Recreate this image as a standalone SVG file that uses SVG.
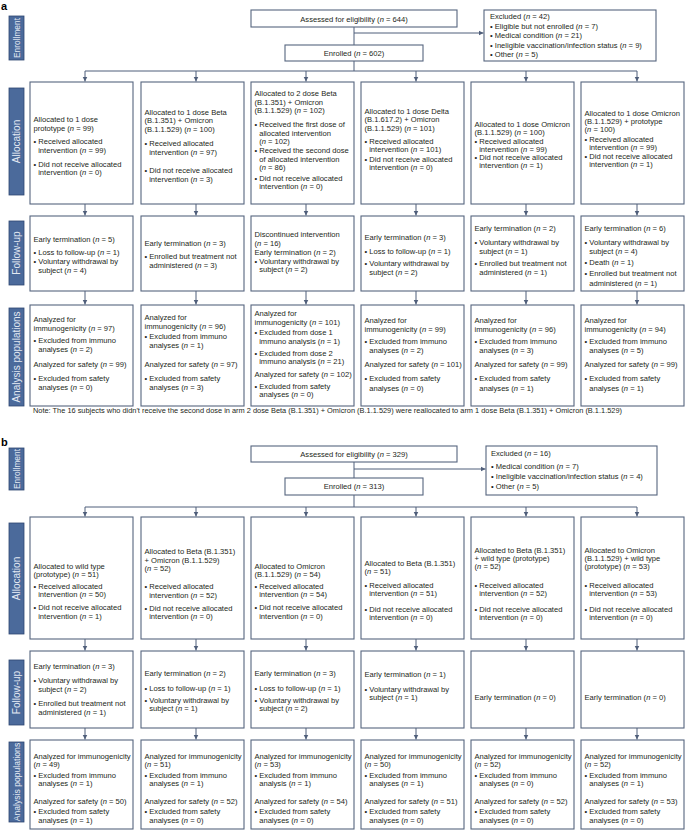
<svg xmlns="http://www.w3.org/2000/svg" width="685" height="840" viewBox="0 0 685 840">
<defs>
<marker id="ah" markerWidth="6" markerHeight="6" refX="5" refY="3" orient="auto" markerUnits="userSpaceOnUse"><path d="M0,0.5 L5,3 L0,5.5 z" fill="#4f5e7a"/></marker>
<style>
.box{fill:#fff;stroke:#56657f;stroke-width:1.1}
.side{fill:#4b6a9b;stroke:#2d4671;stroke-width:0.8}
.st{fill:#e3e9f3;font-family:"Liberation Sans",Arial,sans-serif;font-size:10px;text-anchor:middle}
.se{font-size:8.4px}
.sb{font-size:8.6px}
.t{fill:#231f20;font-family:"Liberation Sans",Arial,sans-serif;font-size:7.6px}
.ctr{text-anchor:middle}
.i{font-style:italic}
.ln{stroke:#4f5e7a;stroke-width:1;fill:none}
.arr{stroke:#4f5e7a;stroke-width:1;fill:none;marker-end:url(#ah)}
.lab{fill:#000;font-family:"Liberation Sans",Arial,sans-serif;font-size:11px;font-weight:bold}
</style>
</defs>
<rect width="685" height="840" fill="#fff"/>

<text class="lab" x="1" y="10">a</text>
<text class="lab" x="1" y="446">b</text>

<!-- Panel a sidebars -->
<g id="a-side-enrollment"><rect class="side" x="9" y="16" width="15" height="44"/><text class="st se" transform="translate(19.5,38) rotate(-90)">Enrollment</text></g>
<g id="a-side-allocation"><rect class="side" x="9" y="88" width="15" height="107"/><text class="st" transform="translate(20,141.5) rotate(-90)">Allocation</text></g>
<g id="a-side-followup"><rect class="side" x="9" y="221" width="15" height="64"/><text class="st" transform="translate(20,253) rotate(-90)">Follow-up</text></g>
<g id="a-side-analysis"><rect class="side" x="9" y="308" width="15" height="98"/><text class="st" transform="translate(20,357) rotate(-90)">Analysis populations</text></g>

<!-- Panel a connectors -->
<g id="a-connectors">
<path class="ln" d="M354,27 V45"/>
<path class="arr" d="M354,33 H483.5"/>
<path class="ln" d="M354,61 V71 M85,71 H637"/>
<path class="arr" d="M85,71 V81.5"/><path class="arr" d="M196,71 V81.5"/><path class="arr" d="M306,71 V81.5"/><path class="arr" d="M416,71 V81.5"/><path class="arr" d="M526,71 V81.5"/><path class="arr" d="M637,71 V81.5"/>
<path class="arr" d="M85,204 V215.5"/><path class="arr" d="M196,204 V215.5"/><path class="arr" d="M306,204 V215.5"/><path class="arr" d="M416,204 V215.5"/><path class="arr" d="M526,204 V215.5"/><path class="arr" d="M637,204 V215.5"/>
<path class="arr" d="M85,291 V304.5"/><path class="arr" d="M196,291 V304.5"/><path class="arr" d="M306,291 V304.5"/><path class="arr" d="M416,291 V304.5"/><path class="arr" d="M526,291 V304.5"/><path class="arr" d="M637,291 V304.5"/>
</g>

<!-- Panel a enrollment -->
<g id="a-assessed"><rect class="box" x="251" y="10" width="206" height="17"/><text class="t ctr" x="354" y="21.5">Assessed for eligibility (<tspan class="i">n</tspan> = 644)</text></g>
<g id="a-enrolled"><rect class="box" x="285" y="45" width="138" height="16"/><text class="t ctr" x="354" y="55.5">Enrolled (<tspan class="i">n</tspan> = 602)</text></g>
<g id="a-excluded"><rect class="box" x="484" y="10" width="172" height="51"/>
<text class="t"><tspan x="490" y="18.7">Excluded (<tspan class="i">n</tspan> = 42)</tspan><tspan x="490" y="29.4">• Eligible but not enrolled (<tspan class="i">n</tspan> = 7)</tspan><tspan x="490" y="38.4">• Medical condition (<tspan class="i">n</tspan> = 21)</tspan><tspan x="490" y="48.4">• Ineligible vaccination/infection status (<tspan class="i">n</tspan> = 9)</tspan><tspan x="490" y="57">• Other (<tspan class="i">n</tspan> = 5)</tspan></text></g>

<!-- Panel a allocation -->
<g id="a-alloc-1"><rect class="box" x="30" y="82" width="103" height="122"/>
<text class="t"><tspan x="33.5" y="122">Allocated to 1 dose</tspan><tspan x="33.5" y="130.5">prototype (<tspan class="i">n</tspan> = 99)</tspan><tspan x="33.5" y="144">• Received allocated</tspan><tspan x="38.2" y="152.5">intervention (<tspan class="i">n</tspan> = 99)</tspan><tspan x="33.5" y="166.5">• Did not receive allocated</tspan><tspan x="38.2" y="175">intervention (<tspan class="i">n</tspan> = 0)</tspan></text></g>
<g id="a-alloc-2"><rect class="box" x="141" y="82" width="103" height="122"/>
<text class="t"><tspan x="144.5" y="115">Allocated to 1 dose Beta</tspan><tspan x="144.5" y="123.3">(B.1.351) + Omicron</tspan><tspan x="144.5" y="131.6">(B.1.1.529) (<tspan class="i">n</tspan> = 100)</tspan><tspan x="144.5" y="146">• Received allocated</tspan><tspan x="149.2" y="154.5">intervention (<tspan class="i">n</tspan> = 97)</tspan><tspan x="144.5" y="173">• Did not receive allocated</tspan><tspan x="149.2" y="181.5">intervention (<tspan class="i">n</tspan> = 3)</tspan></text></g>
<g id="a-alloc-3"><rect class="box" x="251" y="82" width="103" height="122"/>
<text class="t"><tspan x="254.5" y="96.4">Allocated to 2 dose Beta</tspan><tspan x="254.5" y="105">(B.1.351) + Omicron</tspan><tspan x="254.5" y="113.4">(B.1.1.529) (<tspan class="i">n</tspan> = 102)</tspan><tspan x="254.5" y="127.4">• Received the first dose of</tspan><tspan x="259.2" y="135.7">allocated intervention</tspan><tspan x="259.2" y="144">(<tspan class="i">n</tspan> = 102)</tspan><tspan x="254.5" y="153.4">• Received the second dose</tspan><tspan x="259.2" y="161.7">of allocated intervention</tspan><tspan x="259.2" y="170">(<tspan class="i">n</tspan> = 86)</tspan><tspan x="254.5" y="180.7">• Did not receive allocated</tspan><tspan x="259.2" y="189">intervention (<tspan class="i">n</tspan> = 0)</tspan></text></g>
<g id="a-alloc-4"><rect class="box" x="361" y="82" width="103" height="122"/>
<text class="t"><tspan x="364.5" y="114">Allocated to 1 dose Delta</tspan><tspan x="364.5" y="122.4">(B.1.617.2) + Omicron</tspan><tspan x="364.5" y="130.7">(B.1.1.529) (<tspan class="i">n</tspan> = 101)</tspan><tspan x="364.5" y="144">• Received allocated</tspan><tspan x="369.2" y="152.4">intervention (<tspan class="i">n</tspan> = 101)</tspan><tspan x="364.5" y="161.5">• Did not receive allocated</tspan><tspan x="369.2" y="170">intervention (<tspan class="i">n</tspan> = 0)</tspan></text></g>
<g id="a-alloc-5"><rect class="box" x="471" y="82" width="103" height="122"/>
<text class="t"><tspan x="474.5" y="126.7">Allocated to 1 dose Omicron</tspan><tspan x="474.5" y="135">(B.1.1.529) (<tspan class="i">n</tspan> = 100)</tspan><tspan x="474.5" y="143.5">• Received allocated</tspan><tspan x="479.2" y="151.7">intervention (<tspan class="i">n</tspan> = 99)</tspan><tspan x="474.5" y="160">• Did not receive allocated</tspan><tspan x="479.2" y="168.3">intervention (<tspan class="i">n</tspan> = 1)</tspan></text></g>
<g id="a-alloc-6"><rect class="box" x="581" y="82" width="103" height="122"/>
<text class="t"><tspan x="584.5" y="115.7">Allocated to 1 dose Omicron</tspan><tspan x="584.5" y="124">(B.1.1.529) + prototype</tspan><tspan x="584.5" y="132">(<tspan class="i">n</tspan> = 100)</tspan><tspan x="584.5" y="142">• Received allocated</tspan><tspan x="589.2" y="150.3">intervention (<tspan class="i">n</tspan> = 99)</tspan><tspan x="584.5" y="158.7">• Did not receive allocated</tspan><tspan x="589.2" y="167">intervention (<tspan class="i">n</tspan> = 1)</tspan></text></g>

<!-- Panel a follow-up -->
<g id="a-fu-1"><rect class="box" x="30" y="216" width="103" height="75"/>
<text class="t"><tspan x="33.5" y="241.7">Early termination (<tspan class="i">n</tspan> = 5)</tspan><tspan x="33.5" y="255">• Loss to follow-up (<tspan class="i">n</tspan> = 1)</tspan><tspan x="33.5" y="264">• Voluntary withdrawal by</tspan><tspan x="38.2" y="273">subject (<tspan class="i">n</tspan> = 4)</tspan></text></g>
<g id="a-fu-2"><rect class="box" x="141" y="216" width="103" height="75"/>
<text class="t"><tspan x="144.5" y="245.7">Early termination (<tspan class="i">n</tspan> = 3)</tspan><tspan x="144.5" y="259">• Enrolled but treatment not</tspan><tspan x="149.2" y="268">administered (<tspan class="i">n</tspan> = 3)</tspan></text></g>
<g id="a-fu-3"><rect class="box" x="251" y="216" width="103" height="75"/>
<text class="t"><tspan x="254.5" y="237.4">Discontinued intervention</tspan><tspan x="254.5" y="245.7">(<tspan class="i">n</tspan> = 16)</tspan><tspan x="254.5" y="254.7">Early termination (<tspan class="i">n</tspan> = 2)</tspan><tspan x="254.5" y="264">• Voluntary withdrawal by</tspan><tspan x="259.2" y="272.4">subject (<tspan class="i">n</tspan> = 2)</tspan></text></g>
<g id="a-fu-4"><rect class="box" x="361" y="216" width="103" height="75"/>
<text class="t"><tspan x="364.5" y="240">Early termination (<tspan class="i">n</tspan> = 3)</tspan><tspan x="364.5" y="254">• Loss to follow-up (<tspan class="i">n</tspan> = 1)</tspan><tspan x="364.5" y="265.7">• Voluntary withdrawal by</tspan><tspan x="369.2" y="274.7">subject (<tspan class="i">n</tspan> = 2)</tspan></text></g>
<g id="a-fu-5"><rect class="box" x="471" y="216" width="103" height="75"/>
<text class="t"><tspan x="474.5" y="231">Early termination (<tspan class="i">n</tspan> = 2)</tspan><tspan x="474.5" y="244.7">• Voluntary withdrawal by</tspan><tspan x="479.2" y="254">subject (<tspan class="i">n</tspan> = 1)</tspan><tspan x="474.5" y="265.7">• Enrolled but treatment not</tspan><tspan x="479.2" y="274.7">administered (<tspan class="i">n</tspan> = 1)</tspan></text></g>
<g id="a-fu-6"><rect class="box" x="581" y="216" width="103" height="75"/>
<text class="t"><tspan x="584.5" y="231">Early termination (<tspan class="i">n</tspan> = 6)</tspan><tspan x="584.5" y="244.7">• Voluntary withdrawal by</tspan><tspan x="589.2" y="254">subject (<tspan class="i">n</tspan> = 4)</tspan><tspan x="584.5" y="264.7">• Death (<tspan class="i">n</tspan> = 1)</tspan><tspan x="584.5" y="276.4">• Enrolled but treatment not</tspan><tspan x="589.2" y="285.7">administered (<tspan class="i">n</tspan> = 1)</tspan></text></g>

<!-- Panel a analysis -->
<g id="a-an-1"><rect class="box" x="30" y="305" width="103" height="101"/>
<text class="t"><tspan x="33.5" y="322.4">Analyzed for</tspan><tspan x="33.5" y="330.7">immunogenicity (<tspan class="i">n</tspan> = 97)</tspan><tspan x="33.5" y="343.4">• Excluded from immuno</tspan><tspan x="38.2" y="352.4">analyses (<tspan class="i">n</tspan> = 2)</tspan><tspan x="33.5" y="367.4">Analyzed for safety (<tspan class="i">n</tspan> = 99)</tspan><tspan x="33.5" y="380.7">• Excluded from safety</tspan><tspan x="38.2" y="389.7">analyses (<tspan class="i">n</tspan> = 0)</tspan></text></g>
<g id="a-an-2"><rect class="box" x="141" y="305" width="103" height="101"/>
<text class="t"><tspan x="144.5" y="320">Analyzed for</tspan><tspan x="144.5" y="329">immunogenicity (<tspan class="i">n</tspan> = 96)</tspan><tspan x="144.5" y="339">• Excluded from immuno</tspan><tspan x="149.2" y="348">analyses (<tspan class="i">n</tspan> = 1)</tspan><tspan x="144.5" y="367.4">Analyzed for safety (<tspan class="i">n</tspan> = 97)</tspan><tspan x="144.5" y="380.7">• Excluded from safety</tspan><tspan x="149.2" y="389.7">analyses (<tspan class="i">n</tspan> = 3)</tspan></text></g>
<g id="a-an-3"><rect class="box" x="251" y="305" width="103" height="101"/>
<text class="t"><tspan x="254.5" y="315.7">Analyzed for</tspan><tspan x="254.5" y="325">immunogenicity (<tspan class="i">n</tspan> = 101)</tspan><tspan x="254.5" y="334.7">• Excluded from dose 1</tspan><tspan x="259.2" y="344">immuno analysis (<tspan class="i">n</tspan> = 1)</tspan><tspan x="254.5" y="355.7">• Excluded from dose 2</tspan><tspan x="259.2" y="364">immuno analysis (<tspan class="i">n</tspan> = 21)</tspan><tspan x="254.5" y="377.4">Analyzed for safety (<tspan class="i">n</tspan> = 102)</tspan><tspan x="254.5" y="389">• Excluded from safety</tspan><tspan x="259.2" y="397.4">analyses (<tspan class="i">n</tspan> = 0)</tspan></text></g>
<g id="a-an-4"><rect class="box" x="361" y="305" width="103" height="101"/>
<text class="t"><tspan x="364.5" y="323.4">Analyzed for</tspan><tspan x="364.5" y="332.4">immunogenicity (<tspan class="i">n</tspan> = 99)</tspan><tspan x="364.5" y="344">• Excluded from immuno</tspan><tspan x="369.2" y="353">analyses (<tspan class="i">n</tspan> = 2)</tspan><tspan x="364.5" y="367.4">Analyzed for safety (<tspan class="i">n</tspan> = 101)</tspan><tspan x="364.5" y="381.4">• Excluded from safety</tspan><tspan x="369.2" y="390.7">analyses (<tspan class="i">n</tspan> = 0)</tspan></text></g>
<g id="a-an-5"><rect class="box" x="471" y="305" width="103" height="101"/>
<text class="t"><tspan x="474.5" y="323.4">Analyzed for</tspan><tspan x="474.5" y="332.4">immunogenicity (<tspan class="i">n</tspan> = 96)</tspan><tspan x="474.5" y="344">• Excluded from immuno</tspan><tspan x="479.2" y="353">analyses (<tspan class="i">n</tspan> = 3)</tspan><tspan x="474.5" y="367.4">Analyzed for safety (<tspan class="i">n</tspan> = 99)</tspan><tspan x="474.5" y="381.4">• Excluded from safety</tspan><tspan x="479.2" y="390.7">analyses (<tspan class="i">n</tspan> = 1)</tspan></text></g>
<g id="a-an-6"><rect class="box" x="581" y="305" width="103" height="101"/>
<text class="t"><tspan x="584.5" y="323.4">Analyzed for</tspan><tspan x="584.5" y="332.4">immunogenicity (<tspan class="i">n</tspan> = 94)</tspan><tspan x="584.5" y="344">• Excluded from immuno</tspan><tspan x="589.2" y="353">analyses (<tspan class="i">n</tspan> = 5)</tspan><tspan x="584.5" y="367.4">Analyzed for safety (<tspan class="i">n</tspan> = 99)</tspan><tspan x="584.5" y="381.4">• Excluded from safety</tspan><tspan x="589.2" y="390.7">analyses (<tspan class="i">n</tspan> = 1)</tspan></text></g>

<text id="a-note" class="t" x="33" y="413" textLength="589" lengthAdjust="spacingAndGlyphs">Note: The 16 subjects who didn't receive the second dose in arm 2 dose Beta (B.1.351) + Omicron (B.1.1.529) were reallocated to arm 1 dose Beta (B.1.351) + Omicron (B.1.1.529)</text>

<!-- Panel b sidebars -->
<g id="b-side-enrollment"><rect class="side" x="9" y="448" width="15" height="42"/><text class="st se" transform="translate(19.5,469) rotate(-90)">Enrollment</text></g>
<g id="b-side-allocation"><rect class="side" x="9" y="523" width="15" height="111"/><text class="st" transform="translate(20,578.5) rotate(-90)">Allocation</text></g>
<g id="b-side-followup"><rect class="side" x="9" y="660" width="15" height="65"/><text class="st" transform="translate(20,692.5) rotate(-90)">Follow-up</text></g>
<g id="b-side-analysis"><rect class="side" x="9" y="742" width="15" height="80"/><text class="st sb" transform="translate(19.5,782) rotate(-90)">Analysis populations</text></g>

<!-- Panel b connectors -->
<g id="b-connectors">
<path class="ln" d="M354,462 V478"/>
<path class="arr" d="M354,469 H485.5"/>
<path class="ln" d="M354,495 V507 M85,507 H637"/>
<path class="arr" d="M85,507 V516.5"/><path class="arr" d="M196,507 V516.5"/><path class="arr" d="M306,507 V516.5"/><path class="arr" d="M416,507 V516.5"/><path class="arr" d="M526,507 V516.5"/><path class="arr" d="M637,507 V516.5"/>
<path class="arr" d="M85,639 V650.5"/><path class="arr" d="M196,639 V650.5"/><path class="arr" d="M306,639 V650.5"/><path class="arr" d="M416,639 V650.5"/><path class="arr" d="M526,639 V650.5"/><path class="arr" d="M637,639 V650.5"/>
<path class="arr" d="M85,728 V739.5"/><path class="arr" d="M196,728 V739.5"/><path class="arr" d="M306,728 V739.5"/><path class="arr" d="M416,728 V739.5"/><path class="arr" d="M526,728 V739.5"/><path class="arr" d="M637,728 V739.5"/>
</g>

<!-- Panel b enrollment -->
<g id="b-assessed"><rect class="box" x="251" y="446" width="206" height="16"/><text class="t ctr" x="354" y="456.7">Assessed for eligibility (<tspan class="i">n</tspan> = 329)</text></g>
<g id="b-enrolled"><rect class="box" x="285" y="478" width="138" height="17"/><text class="t ctr" x="354" y="489.4">Enrolled (<tspan class="i">n</tspan> = 313)</text></g>
<g id="b-excluded"><rect class="box" x="486" y="446" width="171" height="49"/>
<text class="t"><tspan x="491" y="455.7">Excluded (<tspan class="i">n</tspan> = 16)</tspan><tspan x="491" y="469.4">• Medical condition (<tspan class="i">n</tspan> = 7)</tspan><tspan x="491" y="479.4">• Ineligible vaccination/infection status (<tspan class="i">n</tspan> = 4)</tspan><tspan x="491" y="489.4">• Other (<tspan class="i">n</tspan> = 5)</tspan></text></g>

<!-- Panel b allocation -->
<g id="b-alloc-1"><rect class="box" x="30" y="517" width="103" height="122"/>
<text class="t"><tspan x="33.5" y="568.7">Allocated to wild type</tspan><tspan x="33.5" y="577">(prototype) (<tspan class="i">n</tspan> = 51)</tspan><tspan x="33.5" y="588.7">• Received allocated</tspan><tspan x="38.2" y="597">intervention (<tspan class="i">n</tspan> = 50)</tspan><tspan x="33.5" y="610.4">• Did not receive allocated</tspan><tspan x="38.2" y="618.7">intervention (<tspan class="i">n</tspan> = 1)</tspan></text></g>
<g id="b-alloc-2"><rect class="box" x="141" y="517" width="103" height="122"/>
<text class="t"><tspan x="144.5" y="554.4">Allocated to Beta (B.1.351)</tspan><tspan x="144.5" y="562.7">+ Omicron (B.1.1.529)</tspan><tspan x="144.5" y="571">(<tspan class="i">n</tspan> = 52)</tspan><tspan x="144.5" y="589.4">• Received allocated</tspan><tspan x="149.2" y="597.7">intervention (<tspan class="i">n</tspan> = 52)</tspan><tspan x="144.5" y="611">• Did not receive allocated</tspan><tspan x="149.2" y="619.4">intervention (<tspan class="i">n</tspan> = 0)</tspan></text></g>
<g id="b-alloc-3"><rect class="box" x="251" y="517" width="103" height="122"/>
<text class="t"><tspan x="254.5" y="568.7">Allocated to Omicron</tspan><tspan x="254.5" y="577">(B.1.1.529) (<tspan class="i">n</tspan> = 54)</tspan><tspan x="254.5" y="588.7">• Received allocated</tspan><tspan x="259.2" y="597">intervention (<tspan class="i">n</tspan> = 54)</tspan><tspan x="254.5" y="610.4">• Did not receive allocated</tspan><tspan x="259.2" y="618.7">intervention (<tspan class="i">n</tspan> = 0)</tspan></text></g>
<g id="b-alloc-4"><rect class="box" x="361" y="517" width="103" height="122"/>
<text class="t"><tspan x="364.5" y="566">Allocated to Beta (B.1.351)</tspan><tspan x="364.5" y="574.4">(<tspan class="i">n</tspan> = 51)</tspan><tspan x="364.5" y="587.7">• Received allocated</tspan><tspan x="369.2" y="596">intervention (<tspan class="i">n</tspan> = 51)</tspan><tspan x="364.5" y="612">• Did not receive allocated</tspan><tspan x="369.2" y="620.4">intervention (<tspan class="i">n</tspan> = 0)</tspan></text></g>
<g id="b-alloc-5"><rect class="box" x="471" y="517" width="103" height="122"/>
<text class="t"><tspan x="474.5" y="552.7">Allocated to Beta (B.1.351)</tspan><tspan x="474.5" y="561">+ wild type (prototype)</tspan><tspan x="474.5" y="568.7">(<tspan class="i">n</tspan> = 52)</tspan><tspan x="474.5" y="587.7">• Received allocated</tspan><tspan x="479.2" y="596">intervention (<tspan class="i">n</tspan> = 52)</tspan><tspan x="474.5" y="612">• Did not receive allocated</tspan><tspan x="479.2" y="620.4">intervention (<tspan class="i">n</tspan> = 0)</tspan></text></g>
<g id="b-alloc-6"><rect class="box" x="581" y="517" width="103" height="122"/>
<text class="t"><tspan x="584.5" y="552.7">Allocated to Omicron</tspan><tspan x="584.5" y="561">(B.1.1.529) + wild type</tspan><tspan x="584.5" y="568.7">(prototype) (<tspan class="i">n</tspan> = 53)</tspan><tspan x="584.5" y="587.7">• Received allocated</tspan><tspan x="589.2" y="596">intervention (<tspan class="i">n</tspan> = 53)</tspan><tspan x="584.5" y="612">• Did not receive allocated</tspan><tspan x="589.2" y="620.4">intervention (<tspan class="i">n</tspan> = 0)</tspan></text></g>

<!-- Panel b follow-up -->
<g id="b-fu-1"><rect class="box" x="30" y="651" width="103" height="77"/>
<text class="t"><tspan x="33.5" y="669.4">Early termination (<tspan class="i">n</tspan> = 3)</tspan><tspan x="33.5" y="682.7">• Voluntary withdrawal by</tspan><tspan x="38.2" y="691.7">subject (<tspan class="i">n</tspan> = 2)</tspan><tspan x="33.5" y="706">• Enrolled but treatment not</tspan><tspan x="38.2" y="715">administered (<tspan class="i">n</tspan> = 1)</tspan></text></g>
<g id="b-fu-2"><rect class="box" x="141" y="651" width="103" height="77"/>
<text class="t"><tspan x="144.5" y="676">Early termination (<tspan class="i">n</tspan> = 2)</tspan><tspan x="144.5" y="691">• Loss to follow-up (<tspan class="i">n</tspan> = 1)</tspan><tspan x="144.5" y="702.5">• Voluntary withdrawal by</tspan><tspan x="149.2" y="711">subject (<tspan class="i">n</tspan> = 1)</tspan></text></g>
<g id="b-fu-3"><rect class="box" x="251" y="651" width="103" height="77"/>
<text class="t"><tspan x="254.5" y="676">Early termination (<tspan class="i">n</tspan> = 3)</tspan><tspan x="254.5" y="691">• Loss to follow-up (<tspan class="i">n</tspan> = 1)</tspan><tspan x="254.5" y="702.5">• Voluntary withdrawal by</tspan><tspan x="259.2" y="711">subject (<tspan class="i">n</tspan> = 2)</tspan></text></g>
<g id="b-fu-4"><rect class="box" x="361" y="651" width="103" height="77"/>
<text class="t"><tspan x="364.5" y="677">Early termination (<tspan class="i">n</tspan> = 1)</tspan><tspan x="364.5" y="691.7">• Voluntary withdrawal by</tspan><tspan x="369.2" y="700.4">subject (<tspan class="i">n</tspan> = 1)</tspan></text></g>
<g id="b-fu-5"><rect class="box" x="471" y="651" width="103" height="77"/>
<text class="t"><tspan x="474.5" y="700.4">Early termination (<tspan class="i">n</tspan> = 0)</tspan></text></g>
<g id="b-fu-6"><rect class="box" x="581" y="651" width="103" height="77"/>
<text class="t"><tspan x="584.5" y="700.4">Early termination (<tspan class="i">n</tspan> = 0)</tspan></text></g>

<!-- Panel b analysis -->
<g id="b-an-1"><rect class="box" x="30" y="740" width="103" height="89"/>
<text class="t"><tspan x="33.5" y="758.7">Analyzed for immunogenicity</tspan><tspan x="33.5" y="767">(<tspan class="i">n</tspan> = 49)</tspan><tspan x="33.5" y="777.7">• Excluded from immuno</tspan><tspan x="38.2" y="786">analyses (<tspan class="i">n</tspan> = 1)</tspan><tspan x="33.5" y="804.4">Analyzed for safety (<tspan class="i">n</tspan> = 50)</tspan><tspan x="33.5" y="814.4">• Excluded from safety</tspan><tspan x="38.2" y="823.4">analyses (<tspan class="i">n</tspan> = 1)</tspan></text></g>
<g id="b-an-2"><rect class="box" x="141" y="740" width="103" height="89"/>
<text class="t"><tspan x="144.5" y="758.7">Analyzed for immunogenicity</tspan><tspan x="144.5" y="767">(<tspan class="i">n</tspan> = 51)</tspan><tspan x="144.5" y="777.7">• Excluded from immuno</tspan><tspan x="149.2" y="786">analyses (<tspan class="i">n</tspan> = 1)</tspan><tspan x="144.5" y="804.4">Analyzed for safety (<tspan class="i">n</tspan> = 52)</tspan><tspan x="144.5" y="814.4">• Excluded from safety</tspan><tspan x="149.2" y="823.4">analyses (<tspan class="i">n</tspan> = 0)</tspan></text></g>
<g id="b-an-3"><rect class="box" x="251" y="740" width="103" height="89"/>
<text class="t"><tspan x="254.5" y="758.7">Analyzed for immunogenicity</tspan><tspan x="254.5" y="767">(<tspan class="i">n</tspan> = 53)</tspan><tspan x="254.5" y="777.7">• Excluded from immuno</tspan><tspan x="259.2" y="786">analysis (<tspan class="i">n</tspan> = 1)</tspan><tspan x="254.5" y="804.4">Analyzed for safety (<tspan class="i">n</tspan> = 54)</tspan><tspan x="254.5" y="814.4">• Excluded from safety</tspan><tspan x="259.2" y="823.4">analyses (<tspan class="i">n</tspan> = 0)</tspan></text></g>
<g id="b-an-4"><rect class="box" x="361" y="740" width="103" height="89"/>
<text class="t"><tspan x="364.5" y="758.7">Analyzed for immunogenicity</tspan><tspan x="364.5" y="767">(<tspan class="i">n</tspan> = 50)</tspan><tspan x="364.5" y="777.7">• Excluded from immuno</tspan><tspan x="369.2" y="786">analyses (<tspan class="i">n</tspan> = 1)</tspan><tspan x="364.5" y="804.4">Analyzed for safety (<tspan class="i">n</tspan> = 51)</tspan><tspan x="364.5" y="814.4">• Excluded from safety</tspan><tspan x="369.2" y="823.4">analyses (<tspan class="i">n</tspan> = 0)</tspan></text></g>
<g id="b-an-5"><rect class="box" x="471" y="740" width="103" height="89"/>
<text class="t"><tspan x="474.5" y="758.7">Analyzed for immunogenicity</tspan><tspan x="474.5" y="767">(<tspan class="i">n</tspan> = 52)</tspan><tspan x="474.5" y="777.7">• Excluded from immuno</tspan><tspan x="479.2" y="786">analyses (<tspan class="i">n</tspan> = 0)</tspan><tspan x="474.5" y="804.4">Analyzed for safety (<tspan class="i">n</tspan> = 52)</tspan><tspan x="474.5" y="814.4">• Excluded from safety</tspan><tspan x="479.2" y="823.4">analyses (<tspan class="i">n</tspan> = 0)</tspan></text></g>
<g id="b-an-6"><rect class="box" x="581" y="740" width="103" height="89"/>
<text class="t"><tspan x="584.5" y="758.7">Analyzed for immunogenicity</tspan><tspan x="584.5" y="767">(<tspan class="i">n</tspan> = 52)</tspan><tspan x="584.5" y="777.7">• Excluded from immuno</tspan><tspan x="589.2" y="786">analyses (<tspan class="i">n</tspan> = 1)</tspan><tspan x="584.5" y="804.4">Analyzed for safety (<tspan class="i">n</tspan> = 53)</tspan><tspan x="584.5" y="814.4">• Excluded from safety</tspan><tspan x="589.2" y="823.4">analyses (<tspan class="i">n</tspan> = 0)</tspan></text></g>
</svg>
